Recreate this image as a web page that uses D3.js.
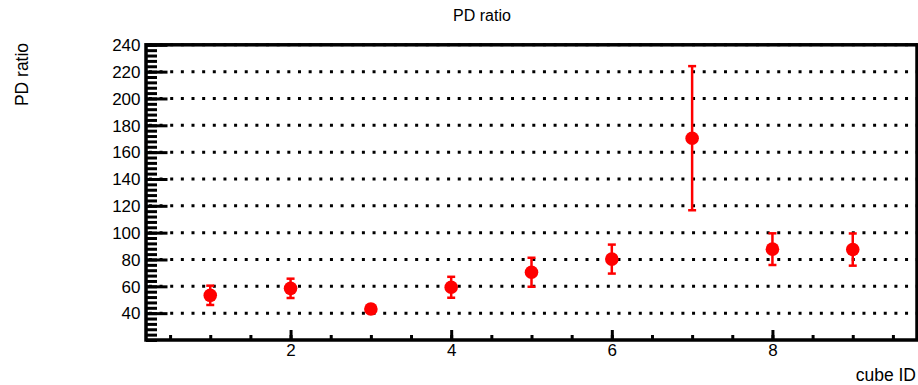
<!DOCTYPE html>
<html>
<head>
<meta charset="utf-8">
<script src="https://cdn.jsdelivr.net/npm/d3@7"></script>
<style>
  html, body { margin: 0; padding: 0; background: #fff; }
  svg { display: block; font-family: "Liberation Sans", Arial, Helvetica, sans-serif; }
</style>
</head>
<body>
<svg id="chart" width="918" height="385"></svg>
<script>
// PD ratio per cube, with symmetric errors
const cubeIds   = [1, 2, 3, 4, 5, 6, 7, 8, 9];
const pdRatio   = [53.3, 58.5, 43.1, 59.3, 70.5, 80.3, 170.4, 87.7, 87.4];
const pdError   = [7.2, 7.2, 3.0, 7.8, 10.8, 10.8, 53.7, 11.8, 12.0];
const yTicks    = [40, 60, 80, 100, 120, 140, 160, 180, 200, 220, 240];
const xTicks    = [2, 4, 6, 8];
const xDomain   = [0.2, 9.8];
const yDomain   = [20, 240];
const titleText = "PD ratio";
const xLabel    = "cube ID";
const yLabel    = "PD ratio";

const svg = d3.select("#chart");
const frame = { left: 146, right: 917, top: 44.8, bottom: 340 };

const x = d3.scaleLinear().domain(xDomain).range([frame.left, frame.right]);
const y = d3.scaleLinear().domain(yDomain).range([frame.bottom, frame.top]);

// dotted horizontal grid at the major y ticks
svg.append("g")
  .selectAll("line")
  .data(yTicks)
  .join("line")
  .attr("x1", frame.left).attr("x2", frame.right)
  .attr("y1", d => y(d)).attr("y2", d => y(d))
  .attr("stroke", "#000")
  .attr("stroke-width", 3)
  .attr("stroke-dasharray", "3 7.65")
  .attr("stroke-dashoffset", -2.9);

// y axis: ticks point into the frame
const yMinor = d3.range(yDomain[0], yDomain[1] + 0.001, 4);
const yAxis = d3.axisRight(y)
  .tickValues(yTicks)
  .tickSize(21.5)
  .tickFormat(d3.format("d"));
const yMinorAxis = d3.axisRight(y)
  .tickValues(yMinor)
  .tickSize(11)
  .tickFormat("");

const gyMinor = svg.append("g").attr("transform", `translate(${frame.left},0)`).call(yMinorAxis);
const gy = svg.append("g").attr("transform", `translate(${frame.left},0)`).call(yAxis);
[gy, gyMinor].forEach(g => {
  g.select(".domain").remove();
  g.selectAll(".tick line").attr("stroke", "#000").attr("stroke-width", 3);
});
gy.selectAll(".tick text")
  .attr("x", -5.5)
  .attr("dy", "0.34em")
  .attr("text-anchor", "end")
  .attr("font-size", 17)
  .attr("fill", "#000");

// x axis: ticks point up into the frame
const xMinor = d3.range(0.5, 9.8, 0.5);
const xAxis = d3.axisTop(x)
  .tickValues(xTicks)
  .tickSize(10)
  .tickFormat(d3.format("d"));
const xMinorAxis = d3.axisTop(x)
  .tickValues(xMinor)
  .tickSize(5)
  .tickFormat("");

const gxMinor = svg.append("g").attr("transform", `translate(0,${frame.bottom})`).call(xMinorAxis);
const gx = svg.append("g").attr("transform", `translate(0,${frame.bottom})`).call(xAxis);
[gx, gxMinor].forEach(g => {
  g.select(".domain").remove();
  g.selectAll(".tick line").attr("stroke", "#000").attr("stroke-width", 3);
});
gx.selectAll(".tick text")
  .attr("y", 16)
  .attr("dy", 0)
  .attr("font-size", 17)
  .attr("fill", "#000");

// frame
svg.append("rect")
  .attr("x", frame.left).attr("y", frame.top)
  .attr("width", frame.right - frame.left)
  .attr("height", frame.bottom - frame.top)
  .attr("fill", "none")
  .attr("stroke", "#000")
  .attr("stroke-width", 3.5);

// error bars and markers
const red = "#ff0000";
const pts = cubeIds.map((c, i) => ({ c, v: pdRatio[i], e: pdError[i] }));
const gErr = svg.append("g").attr("stroke", red).attr("stroke-width", 2.5);
gErr.selectAll("line.bar")
  .data(pts)
  .join("line")
  .attr("class", "bar")
  .attr("x1", d => x(d.c)).attr("x2", d => x(d.c))
  .attr("y1", d => y(d.v + d.e)).attr("y2", d => y(d.v - d.e));
gErr.selectAll("line.capTop")
  .data(pts)
  .join("line")
  .attr("class", "capTop")
  .attr("x1", d => x(d.c) - 4).attr("x2", d => x(d.c) + 4)
  .attr("y1", d => y(d.v + d.e)).attr("y2", d => y(d.v + d.e));
gErr.selectAll("line.capBot")
  .data(pts)
  .join("line")
  .attr("class", "capBot")
  .attr("x1", d => x(d.c) - 4).attr("x2", d => x(d.c) + 4)
  .attr("y1", d => y(d.v - d.e)).attr("y2", d => y(d.v - d.e));

svg.append("g")
  .selectAll("circle")
  .data(pts)
  .join("circle")
  .attr("cx", d => x(d.c))
  .attr("cy", d => y(d.v))
  .attr("r", 6.8)
  .attr("fill", red);

// titles
svg.append("text")
  .attr("x", 482).attr("y", 20.7)
  .attr("text-anchor", "middle")
  .attr("font-size", 16)
  .text(titleText);

svg.append("text")
  .attr("x", 916).attr("y", 380.5)
  .attr("text-anchor", "end")
  .attr("font-size", 17.5)
  .text(xLabel);

svg.append("text")
  .attr("transform", "translate(28,74.5) rotate(-90)")
  .attr("text-anchor", "middle")
  .attr("font-size", 17.5)
  .text(yLabel);
</script>
</body>
</html>
